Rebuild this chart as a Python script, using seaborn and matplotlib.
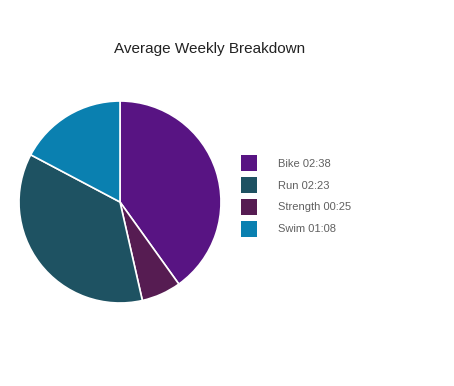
import matplotlib
matplotlib.use("Agg")
import matplotlib.pyplot as plt
import seaborn as sns

# data, in the order the slices are drawn (clockwise from 12 o'clock)
activities = ["Bike", "Strength", "Run", "Swim"]
minutes = [158, 25, 143, 68]
labels = ["02:38", "00:25", "02:23", "01:08"]
colors = ["#581483", "#561c52", "#1e5262", "#0a80b0"]
legend_order = ["Bike", "Run", "Strength", "Swim"]

sns.set_theme(style="white")
plt.rcParams['font.family'] = ['Liberation Sans', 'DejaVu Sans']

fig = plt.figure(figsize=(4.54, 3.86), dpi=100)
fig.patch.set_facecolor("white")

# pie axes: centre ~(120,202) px, radius ~102 px
ax = fig.add_axes([18 / 454, 82 / 386, 204 / 454, 204 / 386])
wedges, _ = ax.pie(minutes, colors=colors, startangle=90, counterclock=False,
                   wedgeprops=dict(edgecolor="white", linewidth=1.2))
ax.set_aspect("equal")
ax.set_xlim(-1.01, 1.01)
ax.set_ylim(-1.01, 1.01)
ax.axis("off")

fig.text(210 / 454, 1 - 49 / 386, "Average Weekly Breakdown",
         ha="center", va="center", fontsize=11, color="#222222")

handles = [wedges[activities.index(a)] for a in legend_order]
texts = [f"{a} {labels[activities.index(a)]}" for a in legend_order]
leg = fig.legend(handles, texts, loc="center left",
                 bbox_to_anchor=(241 / 454, 1 - 196 / 386),
                 frameon=False, fontsize=8, borderpad=0, borderaxespad=0,
                 handlelength=1.44, handleheight=1.84, labelspacing=0.52,
                 handletextpad=1.9)
for t in leg.get_texts():
    t.set_color("#606060")
for h in leg.legend_handles:
    h.set_edgecolor("none")

fig.savefig("out.png", dpi=100, facecolor="white")
